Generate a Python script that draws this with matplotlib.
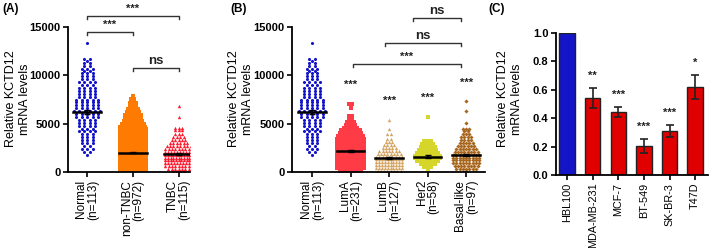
"""
KCTD12 expression panels (A) subtype dot plots, (B) PAM50 dot plots, (C) cell lines
"""
import matplotlib
matplotlib.use('Agg')
import matplotlib.pyplot as plt
import numpy as np

plt.rcParams['font.family'] = ['Liberation Sans', 'DejaVu Sans']

# ---- dot plot data: row level (x100 units) and number of dots in that row ----
normal_lvl = [133, 117, 115, 113, 110, 107, 105, 102, 99, 96, 93, 90, 87, 84, 81, 78, 75, 72, 69,
              66, 63, 60, 57, 54, 51, 48, 45, 42, 39, 36, 33, 30, 27, 24, 21, 18]
normal_cnt = [1, 2, 1, 2, 2, 3, 2, 3, 3, 3, 4, 3, 4, 4, 4, 4, 5, 5, 5,
              5, 6, 5, 5, 4, 4, 4, 3, 4, 3, 3, 3, 3, 2, 3, 2, 1]

nontnbc_lvl = [79, 76, 73, 71, 68, 65, 62, 59, 56, 53, 50, 47, 44, 41, 38, 35, 32, 29, 26, 23,
               20, 17, 14, 11, 8, 5, 2]
nontnbc_cnt = [1, 2, 2, 3, 3, 4, 5, 6, 6, 7, 8, 9, 10, 10, 10, 10, 10, 10, 10, 10,
               10, 10, 10, 10, 10, 10, 10]

tnbc_lvl = [68, 57, 46, 43, 39, 36, 33, 30, 27, 24, 21, 18, 15, 12, 9, 6, 3, 1]
tnbc_cnt = [1, 1, 3, 3, 3, 4, 5, 6, 8, 9, 10, 11, 11, 11, 10, 9, 7, 4]

luma_lvl = [70, 66, 58, 55, 52, 49, 46, 43, 40, 37, 34, 31, 28, 25, 22, 19, 16, 13, 10, 7, 4, 1]
luma_cnt = [2, 1, 2, 2, 3, 4, 5, 7, 8, 9, 10, 10, 10, 10, 10, 10, 10, 10, 10, 10, 10, 8]

lumb_lvl = [54, 44, 39, 34, 31, 28, 25, 22, 19, 16, 13, 10, 7, 4, 1]
lumb_cnt = [1, 1, 2, 2, 3, 4, 5, 7, 8, 9, 10, 10, 10, 10, 8]

her2_lvl = [57, 32, 29, 26, 23, 20, 17, 14, 11, 8, 5, 3]
her2_cnt = [1, 3, 4, 5, 6, 7, 8, 8, 7, 5, 3, 1]

basal_lvl = [73, 63, 51, 45, 42, 39, 36, 33, 30, 27, 24, 21, 18, 15, 12, 9, 6, 3, 1]
basal_cnt = [1, 1, 1, 3, 2, 3, 4, 4, 5, 6, 7, 8, 9, 9, 9, 9, 8, 7, 1]

labels_a = ['Normal\n(n=113)', 'non-TNBC\n(n=972)', 'TNBC\n(n=115)']
means_a = [6200, 2000, 1850]
sem_a = [250, 60, 120]

labels_b = ['Normal\n(n=113)', 'LumA\n(n=231)', 'LumB\n(n=127)', 'Her2\n(n=58)', 'Basal-like\n(n=97)']
means_b = [6200, 2200, 1450, 1600, 1750]
sem_b = [250, 110, 110, 130, 140]
stars_b = ['', '***', '***', '***', '***']
stars_b_y = [0, 9000, 7400, 7650, 9200]

# ---- panel C bar data ----
cells = ['HBL100', 'MDA-MB-231', 'MCF-7', 'BT-549', 'SK-BR-3', 'T47D']
rel_expr = [1.0, 0.545, 0.445, 0.205, 0.31, 0.62]
rel_err = [0.0, 0.07, 0.035, 0.05, 0.04, 0.085]
stars_c = ['', '**', '***', '***', '***', '*']

BLUE = '#1414c8'
ORANGE = '#ff7a00'
RED = '#ff1a2e'
LUMA = '#ff3b45'
LUMB = '#d4a462'
HER2 = '#d6d62a'
BASAL = '#a8661f'


def swarm(lvl, cnt, center, spacing, half_w):
    xs, ys = [], []
    for v, n in zip(lvl, cnt):
        sp = spacing
        if n > 1 and (n - 1) * sp > 2 * half_w:
            sp = 2 * half_w / (n - 1)
        off = (np.arange(n) - (n - 1) / 2) * sp
        xs.extend(center + off)
        ys.extend([v * 100] * n)
    return np.array(xs), np.array(ys)


def style_axes(ax):
    for s in ['top', 'right']:
        ax.spines[s].set_visible(False)
    for s in ['left', 'bottom']:
        ax.spines[s].set_linewidth(1.3)
    ax.tick_params(axis='both', length=3.5, width=1.2, pad=2)
    for t in ax.get_yticklabels():
        t.set_fontweight('bold')
        t.set_fontsize(8)


def bracket(ax, x1, x2, y, text, drop=350, fs=8, dy=250):
    ax.plot([x1, x1, x2, x2], [y - drop, y, y, y - drop], color='#333333', lw=1.0, clip_on=False)
    ax.text((x1 + x2) / 2, y + dy, text, ha='center', va='bottom', fontsize=fs,
            fontweight='bold', color='#222222', clip_on=False)


def ylab(fig, x_px, y_px):
    fig.text(x_px / 709, 1 - y_px / 248, 'Relative KCTD12\nmRNA levels', rotation=90,
             ha='center', va='center', fontsize=9, linespacing=1.2)


fig = plt.figure(figsize=(7.09, 2.48), dpi=100)

# ---------------- panel A ----------------
axA = fig.add_axes([68 / 709, 76 / 248, 122 / 709, 145 / 248])
# (levels, counts, colour, marker, size, dot spacing)
groups_a = [(normal_lvl, normal_cnt, BLUE, 'o', 5, 0.12),
            (nontnbc_lvl, nontnbc_cnt, ORANGE, 's', 6, 0.068),
            (tnbc_lvl, tnbc_cnt, RED, '^', 6, 0.075)]
hw_a = 0.29
for i, (lv, ct, col, mk, sz, sp) in enumerate(groups_a):
    x, y = swarm(lv, ct, i, sp, hw_a)
    axA.scatter(x, y, s=sz, marker=mk, color=col, linewidths=0, zorder=2)
    axA.plot([i - hw_a - 0.02, i + hw_a + 0.02], [means_a[i]] * 2, color='black', lw=1.8, zorder=3)
    axA.errorbar(i, means_a[i], yerr=sem_a[i], color='black', lw=1.2, capsize=2.5, zorder=3)
axA.set_xlim(-0.42, 2.25)
axA.set_ylim(0, 15000)
axA.set_yticks([0, 5000, 10000, 15000])
axA.set_xticks(range(3))
axA.set_xticklabels(labels_a, rotation=90, fontsize=8.5, multialignment='right', linespacing=0.95)
style_axes(axA)
bracket(axA, 0, 2, 16130, '***')
bracket(axA, 0, 1, 14480, '***')
bracket(axA, 1, 2, 10750, 'ns', fs=9.5, dy=150)
ylab(fig, 18, 99)
fig.text(2 / 709, 1 - 9 / 248, '(A)', fontsize=8.5, fontweight='bold', va='center')

# ---------------- panel B ----------------
axB = fig.add_axes([292 / 709, 76 / 248, 193 / 709, 145 / 248])
groups_b = [(normal_lvl, normal_cnt, BLUE, 'o', 5, 0.14),
            (luma_lvl, luma_cnt, LUMA, 's', 5.5, 0.08),
            (lumb_lvl, lumb_cnt, LUMB, '^', 6, 0.085),
            (her2_lvl, her2_cnt, HER2, 's', 6, 0.09),
            (basal_lvl, basal_cnt, BASAL, 'D', 4.5, 0.085)]
hw_b = 0.34
for i, (lv, ct, col, mk, sz, sp) in enumerate(groups_b):
    x, y = swarm(lv, ct, i, sp, hw_b)
    axB.scatter(x, y, s=sz, marker=mk, color=col, linewidths=0, zorder=2)
    axB.plot([i - hw_b - 0.02, i + hw_b + 0.02], [means_b[i]] * 2, color='black', lw=1.8, zorder=3)
    axB.errorbar(i, means_b[i], yerr=sem_b[i], color='black', lw=1.2, capsize=2.5, zorder=3)
    if stars_b[i]:
        axB.text(i, stars_b_y[i], stars_b[i], ha='center', va='center', fontsize=8,
                 fontweight='bold', color='#222222')
axB.set_xlim(-0.52, 4.49)
axB.set_ylim(0, 15000)
axB.set_yticks([0, 5000, 10000, 15000])
axB.set_xticks(range(5))
axB.set_xticklabels(labels_b, rotation=90, fontsize=8.5, multialignment='right', linespacing=0.95)
style_axes(axB)
bracket(axB, 2.62, 3.87, 15930, 'ns', fs=9.5, dy=150)
bracket(axB, 1.9, 3.87, 13340, 'ns', fs=9.5, dy=150)
bracket(axB, 1.06, 3.87, 11170, '***')
ylab(fig, 241, 99)
fig.text(230 / 709, 1 - 9 / 248, '(B)', fontsize=8.5, fontweight='bold', va='center')

# ---------------- panel C ----------------
axC = fig.add_axes([556 / 709, 73 / 248, 152 / 709, 142 / 248])
pos = np.arange(len(cells))
bar_cols = [BLUE] + ['#e00000'] * (len(cells) - 1)
axC.bar(pos, rel_expr, width=0.6, color=bar_cols, edgecolor='#222222', linewidth=1.0, zorder=2)
for i in range(1, len(cells)):
    axC.errorbar(pos[i], rel_expr[i], yerr=rel_err[i], color='#222222', lw=1.2,
                 capsize=3, capthick=1.2, zorder=3)
    axC.text(pos[i], rel_expr[i] + rel_err[i] + 0.085, stars_c[i], ha='center', va='center',
             fontsize=8, fontweight='bold', color='#222222')
axC.set_xlim(-0.43, 5.5)
axC.set_ylim(0, 1.0)
axC.set_yticks([0, 0.2, 0.4, 0.6, 0.8, 1.0])
axC.set_yticklabels(['0.0', '0.2', '0.4', '0.6', '0.8', '1.0'])
axC.set_xticks(pos)
axC.set_xticklabels(cells, rotation=90, fontsize=7.8)
style_axes(axC)
ylab(fig, 510, 99)
fig.text(488 / 709, 1 - 9 / 248, '(C)', fontsize=8.5, fontweight='bold', va='center')

fig.savefig('out.png', dpi=100)
